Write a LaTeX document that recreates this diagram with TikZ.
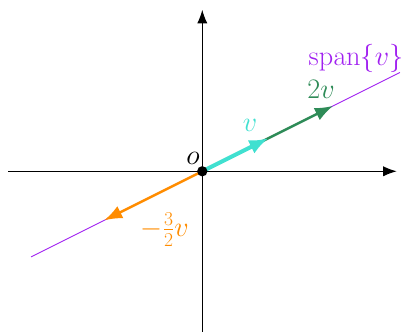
\documentclass[tikz,border=0pt]{standalone}
\usetikzlibrary{arrows.meta}
\definecolor{vturq}{RGB}{64,224,208}
\definecolor{vgreen}{RGB}{46,139,87}
\definecolor{vorange}{RGB}{255,140,0}
\definecolor{vpurple}{RGB}{160,32,240}
\tikzset{
  axis/.style={line width=0.9pt,-{Latex[length=12pt,width=9pt]}},
  spanline/.style={vpurple,line width=0.8pt},
  vecthick/.style={vturq,line width=3.6pt,-{Latex[length=17pt,width=13pt]}},
  vecmid/.style={line width=2.2pt,-{Latex[length=16pt,width=12pt]}},
  lbl/.style={font=\fontsize{24.5}{29}\selectfont,inner sep=0pt},
}
\begin{document}
\begin{tikzpicture}
\useasboundingbox (-6.263,-4.975) rectangle (6.276,5.303);
\coordinate (O) at (0,0);
\coordinate (xl) at (-6,0);
\coordinate (xr) at (6.02,0);
\coordinate (yb) at (0,-5);
\coordinate (yt) at (0,5);
\coordinate (sl) at (-5.3,-2.65);
\coordinate (sr) at (6.12,3.06);
\coordinate (v) at (2.05,1.025);
\coordinate (w) at (4.05,2.025);
\coordinate (u) at (-3.04,-1.52);
\draw[axis] (xl) -- (xr);
\draw[axis] (yb) -- (yt);
\draw[spanline] (sl) -- (sr);
\draw[vecmid,vgreen] (O) -- (w);
\draw[vecmid,vorange] (O) -- (u);
\draw[vecthick] (O) -- (v);
\fill (O) circle (0.16);
\node[lbl] (lo) at (-0.29,0.41) {$o$};
\node[lbl,text=vturq] (lv) at (1.48,1.43) {$v$};
\node[lbl,text=vgreen] (lw) at (3.68,2.52) {$2v$};
\node[lbl,text=vpurple] (ls) at (4.76,3.5) {$\mathrm{span}\{v\}$};
\node[lbl,text=vorange] (lu) at (-1.16,-1.8) {$-\frac{3}{2}v$};
\end{tikzpicture}
\end{document}
